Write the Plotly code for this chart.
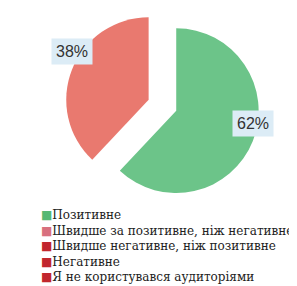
import math
import plotly.graph_objects as go

labels = [
    "Позитивне",
    "Швидше за позитивне, ніж негативне",
    "Швидше негативне, ніж позитивне",
    "Негативне",
    "Я не користувався аудиторіями",
]
values = [62, 38, 0, 0, 0]
colors = ["#6cc489", "#e9796f", "#c1272d", "#c1272d", "#c1272d"]
legend_colors = ["#58b872", "#d8707e", "#c1272d", "#c1272d", "#c1272d"]

pull = 0.18
dom_x = [0.04, 1.0]
dom_y = [0.32, 1.0]
W, H = 297, 286

fig = go.Figure(go.Pie(
    labels=labels,
    values=values,
    marker=dict(colors=colors, line=dict(color="white", width=0)),
    sort=False,
    direction="clockwise",
    rotation=0,
    pull=[pull] * len(values),
    textinfo="none",
    hoverinfo="label+percent",
    domain=dict(x=dom_x, y=dom_y),
    showlegend=False,
))

# percentage boxes placed from the slice geometry
total = sum(values)
bw = (dom_x[1] - dom_x[0]) * W
bh = (dom_y[1] - dom_y[0]) * H
r = min(bw, bh) / (2 + 2 * pull)
cx = W * (dom_x[0] + dom_x[1]) / 2
cy = H * (2 - dom_y[0] - dom_y[1]) / 2
cum = 0
for v in values:
    if v > 0:
        mid = (cum + v / 2) / total * 2 * math.pi
        dx, dy = math.sin(mid), -math.cos(mid)
        px = cx + (pull + 1.0) * r * dx
        py = cy + (pull + 1.0) * r * dy - 18
        fig.add_annotation(
            x=px / W, y=1 - py / H, xref="paper", yref="paper",
            xanchor="center", yanchor="middle",
            text=f"{round(v / total * 100)}%", showarrow=False,
            bgcolor="#dcecf6", borderpad=4,
            font=dict(family="Liberation Sans", size=16, color="#333333"),
        )
    cum += v

# legend: square marker + label per category, one text block
legend_text = "<br>".join(
    f"<span style='color:{c}'>■</span>{lab}" for lab, c in zip(labels, legend_colors)
)
fig.add_annotation(
    x=31 / W, y=1 - 238 / H, xref="paper", yref="paper",
    xanchor="left", yanchor="middle", showarrow=False, align="left",
    text=legend_text,
    font=dict(family="DejaVu Serif", size=12, color="#222222"),
)

fig.update_layout(
    width=W, height=H,
    margin=dict(l=0, r=0, t=0, b=0),
    paper_bgcolor="white",
    showlegend=False,
)

fig.write_html("out.html")
